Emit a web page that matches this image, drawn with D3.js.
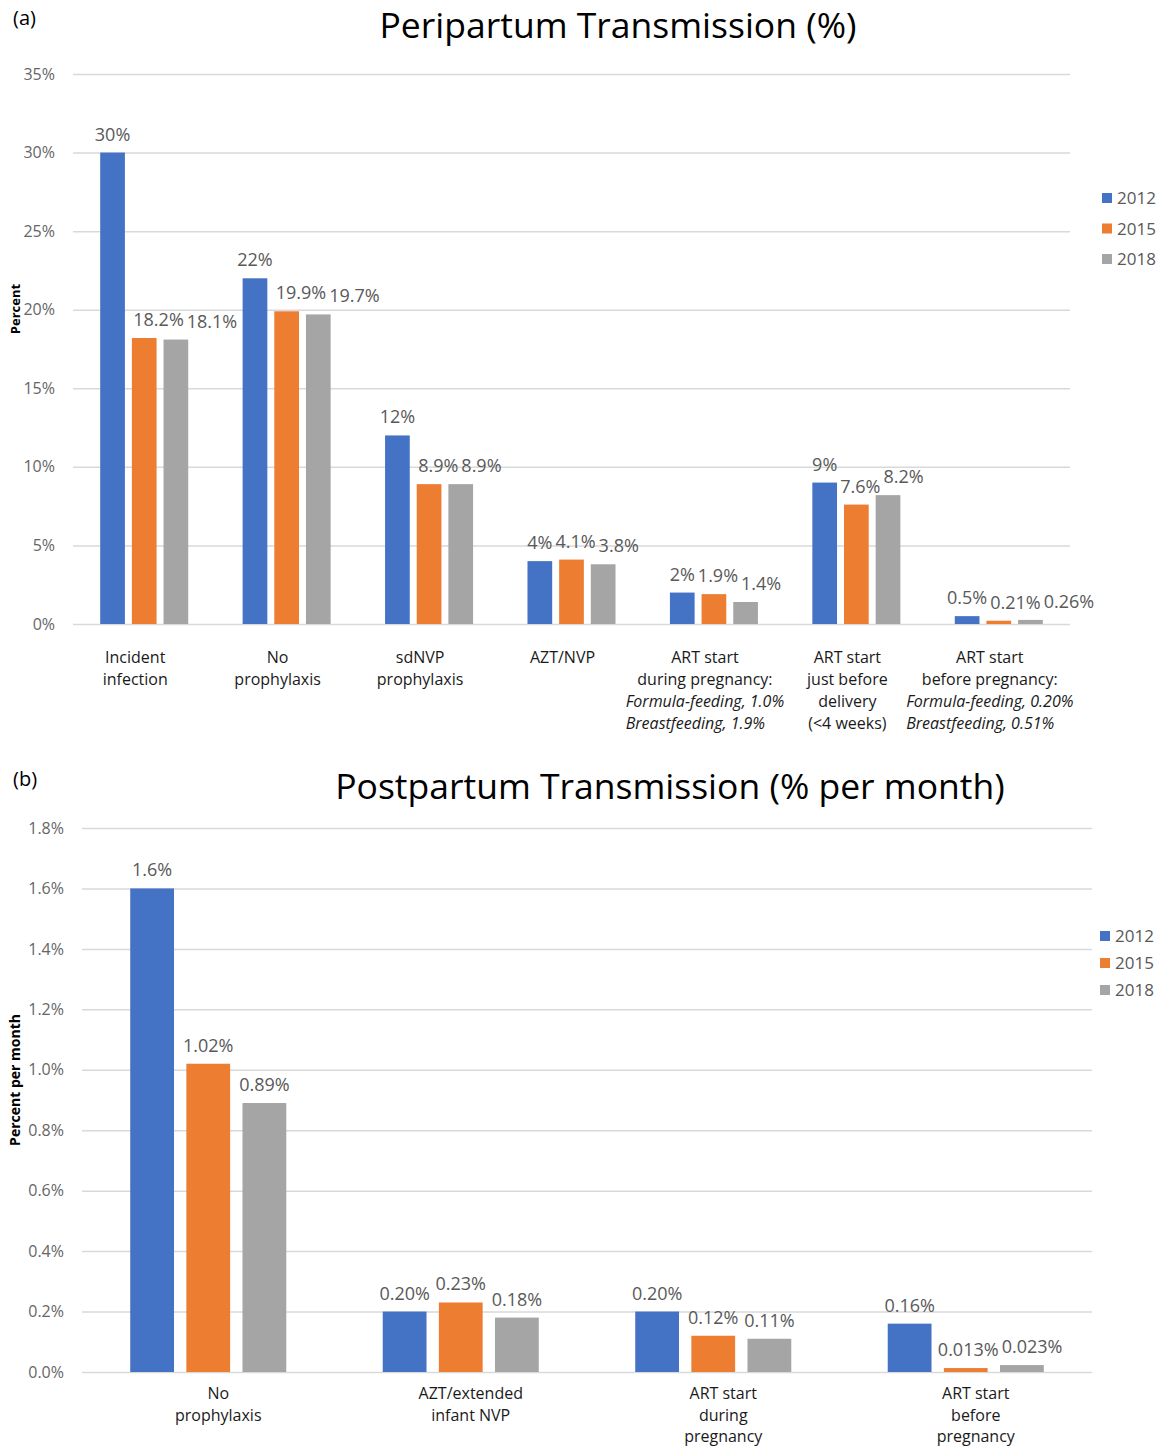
<!DOCTYPE html>
<html lang="en">
<head>
<meta charset="UTF-8">
<title>Peripartum and Postpartum Transmission</title>
<script src="https://d3js.org/d3.v7.min.js"></script>
<style>
  body { margin: 0; background: #fff; }
  svg text { font-family: "Open Sans", "Noto Sans", sans-serif; }
</style>
</head>
<body>
<div id="chart"></div>
<script>
// ---- data ----
const years = ["2012", "2015", "2018"];

// lines starting with "*" are italic
const periCategories = [
  ["Incident", "infection"],
  ["No", "prophylaxis"],
  ["sdNVP", "prophylaxis"],
  ["AZT/NVP"],
  ["ART start", "during pregnancy:", "*Formula-feeding, 1.0%", "*Breastfeeding, 1.9%"],
  ["ART start", "just before", "delivery", "(<4 weeks)"],
  ["ART start", "before pregnancy:", "*Formula-feeding, 0.20%", "*Breastfeeding, 0.51%"]
];
const peri2012 = [30, 22, 12, 4, 2, 9, 0.5];
const peri2015 = [18.2, 19.9, 8.9, 4.1, 1.9, 7.6, 0.21];
const peri2018 = [18.1, 19.7, 8.9, 3.8, 1.4, 8.2, 0.26];
const periLabels2012 = ["30%", "22%", "12%", "4%", "2%", "9%", "0.5%"];
const periLabels2015 = ["18.2%", "19.9%", "8.9%", "4.1%", "1.9%", "7.6%", "0.21%"];
const periLabels2018 = ["18.1%", "19.7%", "8.9%", "3.8%", "1.4%", "8.2%", "0.26%"];
const periTicks = [0, 5, 10, 15, 20, 25, 30, 35];

const postCategories = [
  ["No", "prophylaxis"],
  ["AZT/extended", "infant NVP"],
  ["ART start", "during", "pregnancy"],
  ["ART start", "before", "pregnancy"]
];
const post2012 = [1.6, 0.20, 0.20, 0.16];
const post2015 = [1.02, 0.23, 0.12, 0.013];
const post2018 = [0.89, 0.18, 0.11, 0.023];
const postLabels2012 = ["1.6%", "0.20%", "0.20%", "0.16%"];
const postLabels2015 = ["1.02%", "0.23%", "0.12%", "0.013%"];
const postLabels2018 = ["0.89%", "0.18%", "0.11%", "0.023%"];
const postTicks = [0, 0.2, 0.4, 0.6, 0.8, 1.0, 1.2, 1.4, 1.6, 1.8];

const color = d3.scaleOrdinal().domain(years).range(["#4472C4", "#ED7D31", "#A5A5A5"]);

const svg = d3.select("#chart").append("svg")
  .attr("width", 1161)
  .attr("height", 1448);

function drawPanel(opt) {
  const g = svg.append("g");
  const cats = opt.categories.map((d, i) => i);

  const x0 = d3.scaleBand().domain(cats)
    .range([opt.left, opt.right])
    .paddingInner(0.382).paddingOuter(0.191);
  const x1 = d3.scaleBand().domain(years)
    .range([0, x0.bandwidth()])
    .paddingInner(0.22);
  const y = d3.scaleLinear().domain([0, opt.max]).range([opt.bottom, opt.top]);

  // panel letter and title
  g.append("text").attr("x", 13).attr("y", opt.letterY)
    .attr("font-size", 20).attr("fill", "#000").text(opt.letter);
  g.append("text").attr("x", opt.titleX).attr("y", opt.titleY)
    .attr("text-anchor", "middle").attr("font-size", 35.5).attr("fill", "#000")
    .text(opt.title);

  // grid + y axis
  const yAxis = g.append("g")
    .attr("transform", `translate(${opt.left},0)`)
    .call(d3.axisLeft(y).tickValues(opt.ticks)
      .tickSize(-(opt.right - opt.left)).tickPadding(18)
      .tickFormat(opt.tickFormat));
  yAxis.select(".domain").remove();
  yAxis.selectAll(".tick line").attr("stroke", "#d9d9d9").attr("stroke-width", 1.5);
  yAxis.selectAll(".tick text").attr("fill", "#666").attr("font-size", 16)
    .style("font-family", "'Open Sans', sans-serif");

  // y title
  g.append("text")
    .attr("transform", `translate(${opt.yTitleX},${opt.yTitleY}) rotate(-90)`)
    .attr("text-anchor", "middle").attr("font-size", opt.yTitleSize).attr("font-weight", "bold")
    .attr("fill", "#000").text(opt.yTitle);

  // bars
  const rows = cats.map(i => years.map((yr, k) => ({
    cat: i, year: yr, value: opt.values[k][i], label: opt.labels[k][i]
  })));

  const groups = g.selectAll(".grp").data(rows).join("g")
    .attr("transform", d => `translate(${x0(d[0].cat)},0)`);

  groups.selectAll("rect").data(d => d).join("rect")
    .attr("x", d => x1(d.year))
    .attr("y", d => y(d.value))
    .attr("width", x1.bandwidth())
    .attr("height", d => opt.bottom - y(d.value))
    .attr("fill", d => color(d.year));

  // value labels, pushed right when they would collide
  groups.each(function(d) {
    const grp = d3.select(this);
    let prevRight = -Infinity;
    d.forEach(v => {
      const t = grp.append("text")
        .attr("y", y(v.value) - opt.labelGap)
        .attr("text-anchor", "middle")
        .attr("font-size", opt.labelSize).attr("fill", "#595959")
        .text(v.label);
      const w = t.node().getComputedTextLength();
      let cx = x1(v.year) + x1.bandwidth() / 2;
      cx = Math.max(cx, prevRight + 3 + w / 2);
      t.attr("x", cx);
      prevRight = cx + w / 2;
    });
  });

  // category labels
  opt.categories.forEach((lines, i) => {
    const cx = x0(i) + x0.bandwidth() / 2 + opt.catShift;
    const italicLines = lines.filter(l => l.startsWith("*"));
    let leftX = cx;
    const texts = lines.map((l, j) => {
      const it = l.startsWith("*");
      return g.append("text")
        .attr("y", opt.catY + j * opt.catLine)
        .attr("font-size", 16).attr("fill", "#1a1a1a")
        .attr("font-style", it ? "italic" : "normal")
        .text(it ? l.slice(1) : l);
    });
    if (italicLines.length) {
      const maxW = d3.max(texts.filter((t, j) => lines[j].startsWith("*")),
        t => t.node().getComputedTextLength());
      leftX = cx - maxW / 2;
    }
    texts.forEach((t, j) => {
      if (lines[j].startsWith("*")) t.attr("x", leftX).attr("text-anchor", "start");
      else t.attr("x", cx).attr("text-anchor", "middle");
    });
  });

  // legend
  years.forEach((yr, k) => {
    const ly = opt.legendY + k * opt.legendStep;
    g.append("rect").attr("x", opt.legendX).attr("y", ly - 5)
      .attr("width", 10).attr("height", 10).attr("fill", color(yr));
    g.append("text").attr("x", opt.legendX + 15).attr("y", ly + 6)
      .attr("font-size", 17).attr("fill", "#595959").text(yr);
  });
}

drawPanel({
  letter: "(a)", letterY: 25,
  title: "Peripartum Transmission (%)", titleX: 618, titleY: 38,
  categories: periCategories,
  values: [peri2012, peri2015, peri2018],
  labels: [periLabels2012, periLabels2015, periLabels2018],
  ticks: periTicks, max: 35, tickFormat: d => d + "%",
  left: 73, right: 1070, top: 74, bottom: 624,
  yTitle: "Percent", yTitleX: 20, yTitleY: 309, yTitleSize: 13,
  labelGap: 12, labelSize: 18,
  catY: 663, catLine: 22, catShift: -9,
  legendX: 1102, legendY: 198, legendStep: 30.5
});

drawPanel({
  letter: "(b)", letterY: 786,
  title: "Postpartum Transmission (% per month)", titleX: 670, titleY: 799,
  categories: postCategories,
  values: [post2012, post2015, post2018],
  labels: [postLabels2012, postLabels2015, postLabels2018],
  ticks: postTicks, max: 1.8, tickFormat: d => d3.format(".1f")(d) + "%",
  left: 82, right: 1092, top: 828, bottom: 1372,
  yTitle: "Percent per month", yTitleX: 20, yTitleY: 1080, yTitleSize: 14,
  labelGap: 12, labelSize: 18,
  catY: 1399, catLine: 21.5, catShift: 10,
  legendX: 1100, legendY: 936, legendStep: 27
});
</script>
</body>
</html>
